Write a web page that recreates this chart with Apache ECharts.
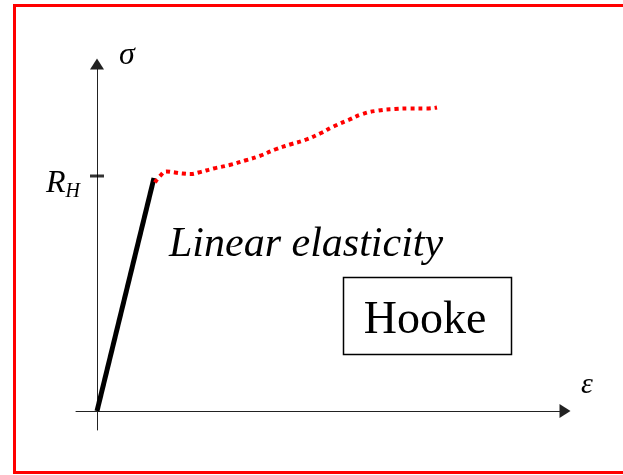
<!DOCTYPE html>
<html>
<head>
<meta charset="utf-8">
<script src="https://cdn.jsdelivr.net/npm/echarts@6/dist/echarts.min.js"></script>
<style>
  html, body { margin: 0; padding: 0; background: #fff; }
  #chart { width: 623px; height: 475px; }
</style>
</head>
<body>
<div id="chart"></div>
<script>
// stress-strain sketch, units are arbitrary (50 px per unit)
const elasticLine = [[0, 0], [1.14, 4.66]];
const plasticCurve = [
  [1.16, 4.57], [1.26, 4.70], [1.39, 4.79], [1.56, 4.77], [1.71, 4.75],
  [1.87, 4.74], [2.03, 4.77], [2.33, 4.85], [2.65, 4.92], [2.96, 5.01],
  [3.25, 5.10], [3.56, 5.23], [3.86, 5.33], [4.16, 5.42], [4.46, 5.55],
  [4.73, 5.69], [5.03, 5.82], [5.31, 5.94], [5.63, 6.01], [5.96, 6.04],
  [6.26, 6.05], [6.59, 6.05], [6.80, 6.07]
];
const yieldStress = 4.7;   // R_H
const serif = "'Liberation Serif', 'DejaVu Serif', serif";

const myChart = echarts.init(document.getElementById('chart'));
const option = {
  animation: false,
  grid: { left: 76, right: 58, top: 64, bottom: 45 },
  xAxis: {
    type: 'value',
    min: -0.42,
    max: 9.36,
    axisLine: {
      onZero: true,
      symbol: ['none', 'triangle'],
      symbolSize: [14, 11],
      lineStyle: { color: '#222', width: 1 }
    },
    axisTick: { show: false },
    axisLabel: { show: false },
    splitLine: { show: false }
  },
  yAxis: {
    type: 'value',
    min: -0.38,
    max: 6.94,
    axisLine: {
      onZero: true,
      symbol: ['none', 'triangle'],
      symbolSize: [14, 11],
      lineStyle: { color: '#222', width: 1 }
    },
    axisTick: { show: false },
    axisLabel: {
      show: true,
      customValues: [yieldStress],
      margin: -4,
      formatter: function () { return '{r|R}{h|H}'; },
      rich: {
        r: { fontFamily: serif, fontStyle: 'italic', fontSize: 32, color: '#000', padding: [16, 0, 0, 0] },
        h: { fontFamily: serif, fontStyle: 'italic', fontSize: 20, color: '#000', verticalAlign: 'bottom', padding: [32, 0, 0, 0] }
      }
    },
    splitLine: { show: false }
  },
  graphic: [
    {
      type: 'rect',
      shape: { x: 14.5, y: 5.5, width: 700, height: 467 },
      style: { fill: 'none', stroke: '#ff0000', lineWidth: 3 },
      silent: true
    },
    {
      type: 'text',
      style: { x: 127, y: 56, text: 'σ', font: 'italic 32px ' + serif, fill: '#000', align: 'center', verticalAlign: 'middle' }
    },
    {
      type: 'text',
      style: { x: 587, y: 385, text: 'ε', font: 'italic 30px ' + serif, fill: '#000', align: 'center', verticalAlign: 'middle' }
    },
    {
      type: 'text',
      style: { x: 169, y: 245, text: 'Linear elasticity', font: 'italic 42px ' + serif, fill: '#000', align: 'left', verticalAlign: 'middle' }
    },
    {
      type: 'rect',
      shape: { x: 343.5, y: 277.5, width: 168, height: 77 },
      style: { fill: '#fff', stroke: '#000', lineWidth: 1.5 }
    },
    {
      type: 'text',
      style: { x: 425, y: 321, text: 'Hooke', font: '46px ' + serif, fill: '#000', align: 'center', verticalAlign: 'middle' }
    }
  ],
  series: [
    {
      name: 'elastic',
      type: 'line',
      data: elasticLine,
      symbol: 'none',
      lineStyle: { color: '#000', width: 5 }
    },
    {
      name: 'plastic',
      type: 'line',
      data: plasticCurve,
      smooth: true,
      symbol: 'none',
      lineStyle: { color: '#ff0000', width: 4, type: [4, 4], cap: 'butt' }
    },
    {
      name: 'RH tick',
      type: 'scatter',
      data: [[0, yieldStress]],
      symbol: 'rect',
      symbolSize: [14, 3],
      itemStyle: { color: '#000' }
    }
  ]
};
option && myChart.setOption(option);
</script>
</body>
</html>
